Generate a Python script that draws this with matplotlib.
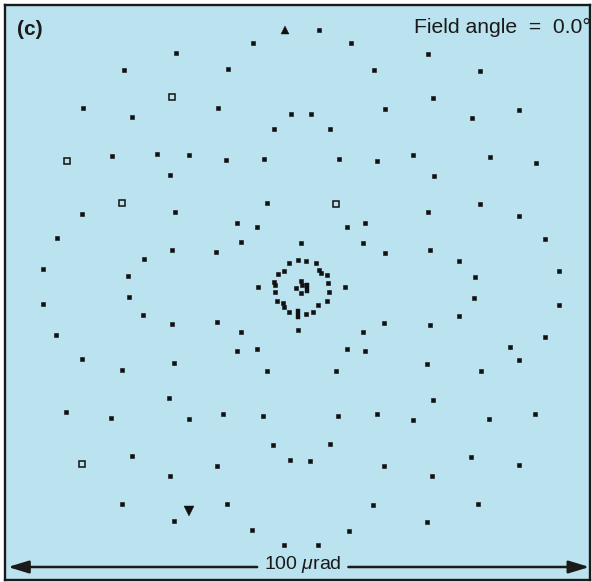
import matplotlib
matplotlib.use("Agg")
import matplotlib.pyplot as plt
import numpy as np

plt.rcParams['font.family'] = ['Liberation Sans', 'DejaVu Sans']
plt.rcParams['mathtext.fontset'] = 'custom'
plt.rcParams['mathtext.rm'] = 'Liberation Sans'
plt.rcParams['mathtext.it'] = 'Liberation Sans:italic'

# Spot positions in microradians (x to the right, y upward)
spot_x = [-2.7, -8.2, -21.3, -30.2, -12.5, -22.0, -37.2, -14.2, -28.8, -1.7,
          -4.6, -39.9, -32.2, -24.6, -19.1, -12.8, -6.3, -22.3, -30.5, -37.4,
          -21.5, -5.8, -41.6, -10.9, -7.5, -10.2, -26.8, -22.0, -14.5, -44.0,
          -29.5,
          3.1, 8.5, 21.7, 12.5, 30.5, 22.5, 1.7, 14.3, 29.2, 37.2,
          4.9, 6.5, 13.0, 19.1, 32.2, 40.1, 22.7, 6.0, 21.7, 30.5,
          37.2, 10.9, 7.8, 41.6, 10.6, 14.3, 22.0, 27.0, 29.7, 44.0,
          0.0,
          -44.0, -29.3, -27.0, -22.0, -14.3, -10.2, -41.8, -10.9, -7.5, -37.4,
          -30.5, -21.7, -5.8, -22.5, -40.1, -32.4, -19.1, -13.3, -6.5, -4.8,
          -28.8, -37.4, -14.3, -1.9, -22.3, -30.5, -19.1, -12.6, -21.7, -8.4,
          -2.9,
          29.5, 44.0, 27.0, 14.2, 22.0, 10.6, 41.6, 7.8, 10.9, 35.7,
          37.2, 21.5, 30.7, 6.0, 22.5, 6.3, 13.0, 19.1, 32.1, 39.9,
          4.9, 1.5, 14.2, 29.0, 37.2, 22.3, 12.3, 30.2, 21.5, 8.2,
          2.9, -0.5,
          -2.0, -0.5, 0.9, 2.6, 3.1, 3.4, 4.4, -2.9, -3.9, -4.6,
          -4.4, -7.3, -4.4, 0.0, 0.2, -0.9, 1.0, 0.0, 4.6, 4.8,
          7.5, -4.1, -3.1, -2.9, -2.0, -0.5, 0.9, 2.0, 2.9, 4.4]
spot_y = [43.9, 41.6, 39.9, 37.0, 37.2, 32.4, 30.5, 30.5, 29.0, 29.5,
          27.0, 21.5, 22.3, 22.7, 22.5, 21.7, 21.8, 19.1, 14.3, 12.5,
          12.8, 14.3, 8.4, 10.9, 10.2, 7.7, 4.8, 6.3, 6.0, 3.1,
          1.9,
          43.9, 41.6, 39.7, 37.0, 36.8, 32.2, 29.5, 30.4, 28.8, 30.2,
          27.0, 21.8, 21.5, 22.5, 22.2, 21.2, 18.9, 14.2, 12.8, 14.2,
          12.1, 10.9, 10.2, 8.2, 7.5, 5.8, 6.3, 4.4, 1.7, 2.7,
          7.5,
          -2.9, -1.7, -4.8, -6.3, -6.0, -7.7, -8.2, -10.9, -10.6, -12.3,
          -14.2, -13.0, -14.3, -18.9, -21.3, -22.3, -22.5, -21.7, -22.0, -27.0,
          -28.8, -30.2, -30.5, -29.5, -32.2, -37.0, -38.2, -37.0, -39.9, -41.5,
          -44.0,
          -1.9, -3.1, -4.9, -6.1, -6.5, -7.7, -8.5, -10.6, -10.9, -10.2,
          -12.5, -13.1, -14.3, -14.3, -19.3, -22.0, -21.7, -22.7, -22.5, -21.7,
          -26.8, -29.7, -30.5, -29.0, -30.4, -32.2, -37.2, -37.0, -40.1, -41.6,
          -44.0, -7.3,
          4.1, 4.6, 4.4, 4.1, 2.9, 2.4, 2.0, 2.7, 2.2, 0.9,
          0.3, 0.0, -0.9, 1.0, 0.3, -0.2, -0.2, -1.0, 0.7, -0.9,
          0.0, -2.4, -2.7, -3.4, -4.3, -4.6, -4.6, -4.3, -3.1, -2.4]

title_label = "(c)"
field_label = "Field angle  =  0.0\u00b0"
scale_label = r"100 $\mu$rad"

# style groups (indices into the spot arrays)
open_idx = [5, 11, 18, 48, 83]
bar_idx = [141, 150]
tri_idx = [88]
blob_idx = [0]

W, H = 592, 582
fig = plt.figure(figsize=(W / 100, H / 100), dpi=100)
fig.patch.set_facecolor('white')
ax = fig.add_axes([5 / W, 2 / H, 585 / W, 575 / H])
ax.set_facecolor('#bae3ef')
ax.set_xlim(-50.5, 49.3)
ax.set_ylim(-50.0, 48.1)
ax.set_xticks([])
ax.set_yticks([])
for s in ax.spines.values():
    s.set_linewidth(1.7)
    s.set_color('#1a1a1a')

sx = np.array(spot_x)
sy = np.array(spot_y)
special = set(open_idx + bar_idx + tri_idx + blob_idx)
normal = [i for i in range(len(sx)) if i not in special]

ax.plot(sx[normal], sy[normal], ls='none', marker='s', ms=3.3,
        mfc='#111111', mec='#111111', mew=0.4)
ax.plot(sx[open_idx], sy[open_idx], ls='none', marker='s', ms=3.8,
        mfc='none', mec='#111111', mew=1.1)
bar_marker = [(-0.35, -1), (0.35, -1), (0.35, 1), (-0.35, 1), (-0.35, -1)]
ax.plot(sx[bar_idx], sy[bar_idx], ls='none', marker=bar_marker, ms=6.5,
        mfc='#111111', mec='#111111', mew=0.3)
ax.plot(sx[tri_idx], sy[tri_idx], ls='none', marker='v', ms=6.5,
        mfc='#111111', mec='#111111', mew=0.3)
ax.plot(sx[blob_idx], sy[blob_idx], ls='none', marker='^', ms=5.5,
        mfc='#111111', mec='#111111', mew=0.3)

ax.text(0.021, 0.957, title_label, transform=ax.transAxes, fontsize=15,
        fontweight='bold', ha='left', va='center', color='#1a1a1a')
ax.text(1.001, 0.961, field_label, transform=ax.transAxes, fontsize=15.2,
        ha='right', va='center', color='#1a1a1a')

# scale bar arrows
ya = 0.0226
ax.text(0.5085, ya + 0.004, scale_label, transform=ax.transAxes, fontsize=14,
        ha='center', va='center', color='#1a1a1a')
arrow_kw = dict(arrowstyle='-|>,head_length=1.25,head_width=0.38', color='#1a1a1a',
                lw=1.8, shrinkA=0, shrinkB=0)
ax.annotate('', xy=(0.005, ya), xytext=(0.431, ya), xycoords='axes fraction',
            textcoords='axes fraction', arrowprops=arrow_kw)
ax.annotate('', xy=(0.999, ya), xytext=(0.587, ya), xycoords='axes fraction',
            textcoords='axes fraction', arrowprops=arrow_kw)

fig.savefig('out.png', dpi=100, facecolor='white')
